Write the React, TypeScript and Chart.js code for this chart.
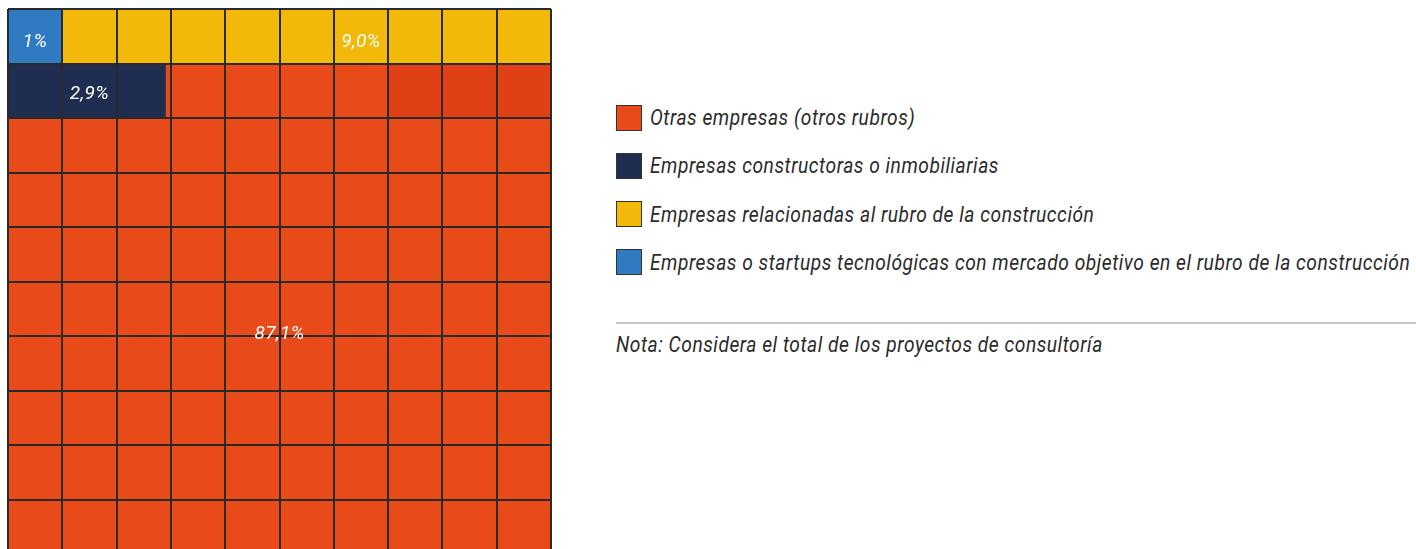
import React, { useEffect, useRef } from "react";
import { Chart, registerables } from "chart.js";

Chart.register(...registerables);

// ---- Data ----
const categories = [
  "Empresas o startups tecnológicas con mercado objetivo en el rubro de la construcción",
  "Empresas relacionadas al rubro de la construcción",
  "Empresas constructoras o inmobiliarias",
  "Otras empresas (otros rubros)",
];
const values = [1.0, 9.0, 2.9, 87.1]; // percent, in waffle fill order
const valueLabels = ["1%", "9,0%", "2,9%", "87,1%"];
const colors = ["#2F7AC0", "#F2B90A", "#1F2D50", "#E84A19"];
const legendOrder = [3, 2, 1, 0];
const note = "Nota: Considera el total de los proyectos de consultoría";

// Label anchors in grid units (column, row)
const labelCols = [0.5, 6.5, 1.5, 5.0];
const labelRows = [0.11, 0.11, 1.07, 5.47];

// Subtle darker shade in the second row (as seen in the original)
const shadeRow = 1;
const shadeFrom = 7;
const shadeTo = 10;
const shadeColor = "#DF4015";

const ROWS = 10;
const COLS = 10;
const rowLabels = Array.from({ length: ROWS }, (_, i) => String(i));

function buildSegments() {
  // cumulative fill of a 10x10 grid (each cell = 1%)
  const datasets: any[] = [];
  let start = 0;
  values.forEach((v, ci) => {
    const end = start + v;
    const data: any[] = [];
    for (let r = 0; r < ROWS; r++) {
      const rs = r * COLS;
      const re = rs + COLS;
      const a = Math.max(start, rs);
      const b = Math.min(end, re);
      data.push(b > a ? [a - rs, b - rs] : null);
    }
    datasets.push({
      label: categories[ci],
      data,
      backgroundColor: colors[ci],
      borderWidth: 0,
      grouped: false,
      barPercentage: 1,
      categoryPercentage: 1,
      order: 2,
    });
    start = end;
  });
  const shade: any[] = rowLabels.map((_, r) => (r === shadeRow ? [shadeFrom, shadeTo] : null));
  datasets.push({
    label: "shade",
    data: shade,
    backgroundColor: shadeColor,
    borderWidth: 0,
    grouped: false,
    barPercentage: 1,
    categoryPercentage: 1,
    order: 1,
  });
  return datasets;
}

const labelPlugin = {
  id: "waffleLabels",
  afterDraw(chart: any) {
    const { ctx, scales } = chart;
    const xs = scales.x;
    const ys = scales.y;
    ctx.save();
    ctx.fillStyle = "#FFFFFF";
    ctx.font = "italic 19px Roboto";
    (ctx as any).letterSpacing = "0.4px";
    ctx.textAlign = "center";
    ctx.textBaseline = "middle";
    valueLabels.forEach((t, i) => {
      const x = xs.getPixelForValue(labelCols[i]);
      const y = ys.getPixelForValue(labelRows[i]);
      ctx.fillText(t, x, y);
    });
    ctx.restore();
  },
};

function Waffle() {
  const ref = useRef<HTMLCanvasElement | null>(null);
  useEffect(() => {
    if (!ref.current) return;
    const chart = new Chart(ref.current, {
      type: "bar",
      data: { labels: rowLabels, datasets: buildSegments() },
      options: {
        indexAxis: "y",
        animation: false,
        responsive: false,
        maintainAspectRatio: false,
        layout: { padding: { left: 1, top: 1, right: 1, bottom: 1 } },
        plugins: { legend: { display: false }, tooltip: { enabled: false } },
        scales: {
          x: {
            type: "linear",
            min: 0,
            max: COLS,
            ticks: { display: false, stepSize: 1 },
            grid: { color: "#2A2A2A", lineWidth: 2, drawTicks: false, z: 1 },
            border: { display: false },
          },
          y: {
            type: "category",
            offset: true,
            ticks: { display: false },
            grid: { color: "#2A2A2A", lineWidth: 2, drawTicks: false, offset: true, z: 1 },
            border: { display: false },
          },
        },
      } as any,
      plugins: [labelPlugin],
    });
    return () => chart.destroy();
  }, []);
  return <canvas ref={ref} width={545} height={547} style={{ width: 545, height: 547, display: "block" }} />;
}

export default function App() {
  const textStyle: React.CSSProperties = {
    fontFamily: "Roboto, sans-serif",
    fontStyle: "italic",
    color: "#2B2B2B",
    whiteSpace: "nowrap",
    display: "inline-block",
    transformOrigin: "left center",
  };
  return (
    <div style={{ position: "fixed", left: 0, top: 0, width: "100vw", height: "100vh", overflow: "hidden", background: "#FFFFFF" }}>
      <div style={{ position: "absolute", left: 7, top: 8 }}>
        <Waffle />
      </div>
      {legendOrder.map((ci, i) => (
        <div key={ci} style={{ position: "absolute", left: 616, top: 104 + i * 48.3, height: 27, display: "flex", alignItems: "center", width: 900 }}>
          <div
            style={{
              width: 24,
              height: 24,
              background: colors[ci],
              border: "1.5px solid #333",
              flex: "0 0 auto",
            }}
          />
          <span style={{ ...textStyle, marginLeft: 8, fontSize: 22, letterSpacing: 0.6, transform: "scaleX(0.873)", flex: "0 0 auto" }}>
            {categories[ci]}
          </span>
        </div>
      ))}
      <div style={{ position: "absolute", left: 616, top: 322, width: 820, height: 0, borderTop: "2px solid #C8C8C8" }} />
      <div style={{ position: "absolute", left: 616, top: 332, width: 900 }}>
        <span style={{ ...textStyle, fontSize: 22, letterSpacing: 0.6, transform: "scaleX(0.873)" }}>{note}</span>
      </div>
    </div>
  );
}
